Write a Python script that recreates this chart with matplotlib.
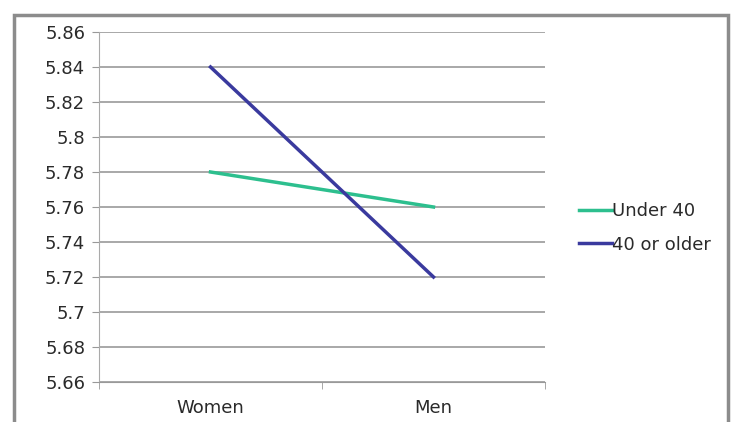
import matplotlib.pyplot as plt
from matplotlib.patches import Rectangle

plt.rcParams['font.family'] = ['DejaVu Sans']

groups = ["Women", "Men"]
under_40 = [5.78, 5.76]
over_40 = [5.84, 5.72]
yticks = [5.66, 5.68, 5.70, 5.72, 5.74, 5.76, 5.78, 5.80, 5.82, 5.84, 5.86]
ytick_labels = ["5.66", "5.68", "5.7", "5.72", "5.74", "5.76", "5.78", "5.8", "5.82", "5.84", "5.86"]

fig = plt.figure(figsize=(7.35, 4.22), dpi=100)
fig.patches.append(Rectangle((14/735, -0.05), (728-14)/735, 1.05 - 15/422,
                             transform=fig.transFigure, fill=False,
                             edgecolor="#8c8c8c", linewidth=2.5))

ax = fig.add_axes([99/735, 1 - 382/422, (545-99)/735, (382-32)/422])
x = [0.5, 1.5]
ax.plot(x, under_40, color="#2dbf8e", linewidth=2.5, label="Under 40")
ax.plot(x, over_40, color="#3a3a9e", linewidth=2.5, label="40 or older")

ax.set_xlim(0, 2)
ax.set_ylim(5.66, 5.86)
ax.set_yticks(yticks)
ax.set_yticklabels(ytick_labels)
ax.set_xticks(x)
ax.set_xticklabels(groups)
ax.set_xticks([0, 1, 2], minor=True)
ax.tick_params(axis="x", which="major", length=0, pad=12, labelsize=13, colors="#2a2a2a")
ax.tick_params(axis="x", which="minor", length=5, color="#999999")
ax.tick_params(axis="y", length=5, color="#999999", labelsize=13, colors="#2a2a2a", pad=5)
ax.grid(axis="y", color="#9a9a9a", linewidth=1.2)
ax.set_axisbelow(True)
for s in ["top", "right"]:
    ax.spines[s].set_visible(False)
ax.spines["left"].set_color("#aaaaaa")
ax.spines["bottom"].set_color("#999999")

ax.legend(loc="center left", bbox_to_anchor=(1.04, 0.44), frameon=False,
          fontsize=13, handlelength=1.8, handletextpad=0.0, labelspacing=0.85,
          labelcolor="#2a2a2a")

fig.savefig("out.png", dpi=100)
